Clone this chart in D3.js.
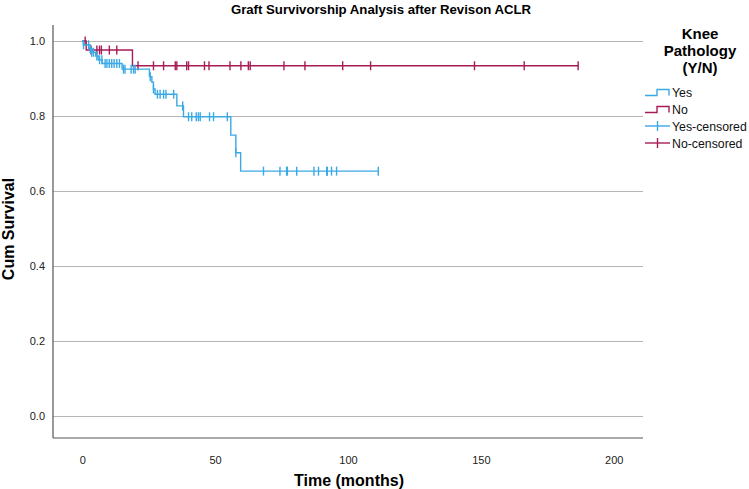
<!DOCTYPE html>
<html>
<head>
<meta charset="utf-8">
<script src="https://cdn.jsdelivr.net/npm/d3@7"></script>
<style>
  body { margin: 0; background: #fff; }
  svg { display: block; font-family: "Liberation Sans", Arial, sans-serif; }
  .tick text { font-family: "Liberation Sans Narrow", "Liberation Sans", Arial, sans-serif; font-size: 11px; fill: #222; }
</style>
</head>
<body>
<svg id="chart"></svg>
<script>
const width = 749;
const height = 489;

// Kaplan-Meier steps (months, cum survival)
const yesTimes = [0, 0.4, 2.5, 3.5, 5, 6, 7.5, 15, 25.3, 26.2, 26.8, 27.4, 35.6, 38.1, 55.9, 57.8, 59.6];
const yesSurv  = [1.0, 0.99, 0.98, 0.97, 0.96, 0.95, 0.94, 0.925, 0.905, 0.89, 0.872, 0.858, 0.827, 0.798, 0.749, 0.702, 0.653];
const yesEnd = 111.4;
const yesCensored = [0.5, 2.4, 3, 3.6, 4.2, 5.5, 6.5, 7.4, 8.6, 9.3, 10.2, 11.1, 12, 13, 14,
    15.5, 16.1, 18.4, 19.3, 19.9, 25.6, 26.8, 28.3, 29.3, 30.6, 31.5, 34.4, 37.8,
    40, 41.2, 42.9, 43.7, 44.4, 47.9, 49.4, 54.6, 57.8,
    68.2, 74.4, 76.9, 77.2, 80.7, 87.2, 88.9, 92, 92.2, 93.8, 95.7, 111.4];

const noTimes = [0, 1.5, 18.9];
const noSurv  = [1.0, 0.976, 0.934];
const noEnd = 186.6;
const noCensored = [1.1, 3.3, 5.5, 6.5, 7.2, 10.2, 13,
    21, 26.8, 30.6, 35, 35.6, 39.3, 40, 46, 47.7, 55.6, 59.7, 62.5, 63.2,
    75.9, 83.8, 98, 108.5, 147.6, 166.3, 186.6];

const xTicks = [0, 50, 100, 150, 200];
const yTicks = [0, 0.2, 0.4, 0.6, 0.8, 1.0];

const colors = { Yes: '#3aa9e4', No: '#a61c57' };
const legendItems = ['Yes', 'No', 'Yes-censored', 'No-censored'];

const svg = d3.select("#chart")
    .attr("width", width)
    .attr("height", height);

const x = d3.scaleLinear().domain([-11, 211]).range([53, 643]);
const y = d3.scaleLinear().domain([-0.0587, 1.0427]).range([438, 25]);

// gridlines + y tick labels
const yAxis = svg.append("g")
    .attr("transform", `translate(${x.range()[0]},0)`)
    .call(d3.axisLeft(y).tickValues(yTicks).tickFormat(d3.format(".1f"))
        .tickSize(-(x.range()[1] - x.range()[0])).tickPadding(8));
yAxis.select(".domain").remove();
yAxis.selectAll(".tick line").attr("stroke", "#b5b5b5").attr("stroke-width", 1.2);

const xAxis = svg.append("g")
    .attr("transform", `translate(0,${y.range()[0]})`)
    .call(d3.axisBottom(x).tickValues(xTicks).tickSize(0).tickPadding(18));
xAxis.select(".domain").remove();

// axis lines
svg.append("line")
    .attr("x1", x.range()[0]).attr("x2", x.range()[0])
    .attr("y1", y.range()[1]).attr("y2", y.range()[0])
    .attr("stroke", "#555").attr("stroke-width", 1.2);
svg.append("line")
    .attr("x1", x.range()[0]).attr("x2", x.range()[1])
    .attr("y1", y.range()[0]).attr("y2", y.range()[0])
    .attr("stroke", "#555").attr("stroke-width", 1.2);

function survAt(times, surv, t) {
    let s = surv[0];
    times.forEach((tt, i) => { if (t >= tt) s = surv[i]; });
    return s;
}

const line = d3.line()
    .x(d => x(d[0]))
    .y(d => y(d[1]))
    .curve(d3.curveStepAfter);

function drawCurve(times, surv, end, censored, color) {
    const pts = times.map((t, i) => [t, surv[i]]);
    pts.push([end, surv[surv.length - 1]]);
    svg.append("path")
        .attr("d", line(pts))
        .attr("fill", "none")
        .attr("stroke", color)
        .attr("stroke-width", 1.4);
    svg.append("g").selectAll("line")
        .data(censored)
        .enter()
        .append("line")
        .attr("x1", d => x(d)).attr("x2", d => x(d))
        .attr("y1", d => y(survAt(times, surv, d)) - 4.5)
        .attr("y2", d => y(survAt(times, surv, d)) + 4.5)
        .attr("stroke", color)
        .attr("stroke-width", 1.4);
}

drawCurve(noTimes, noSurv, noEnd, noCensored, colors.No);
drawCurve(yesTimes, yesSurv, yesEnd, yesCensored, colors.Yes);

// titles
svg.append("text")
    .attr("x", 381).attr("y", 14)
    .attr("text-anchor", "middle")
    .style("font-size", "13.2px").style("font-weight", "bold")
    .text("Graft Survivorship Analysis after Revison ACLR");

svg.append("text")
    .attr("x", 349).attr("y", 486)
    .attr("text-anchor", "middle")
    .style("font-size", "16px").style("font-weight", "bold")
    .text("Time (months)");

svg.append("text")
    .attr("transform", "translate(14,229) rotate(-90)")
    .attr("text-anchor", "middle")
    .style("font-size", "16px").style("font-weight", "bold")
    .text("Cum Survival");

// legend
const legTitle = ["Knee", "Pathology", "(Y/N)"];
svg.append("g").selectAll("text")
    .data(legTitle)
    .enter()
    .append("text")
    .attr("x", 700)
    .attr("y", (d, i) => 39 + i * 17)
    .attr("text-anchor", "middle")
    .style("font-size", "15px").style("font-weight", "bold")
    .text(d => d);

const leg = svg.append("g").selectAll("g")
    .data(legendItems)
    .enter()
    .append("g")
    .attr("transform", (d, i) => `translate(645,${92 + i * 17})`);

leg.each(function(d) {
    const g = d3.select(this);
    const color = d.startsWith('Yes') ? colors.Yes : colors.No;
    if (d.includes('censored')) {
        g.append("line").attr("x1", 0).attr("x2", 25).attr("y1", 0).attr("y2", 0)
            .attr("stroke", color).attr("stroke-width", 1.4);
        g.append("line").attr("x1", 12.5).attr("x2", 12.5).attr("y1", -5).attr("y2", 5)
            .attr("stroke", color).attr("stroke-width", 1.4);
    } else {
        g.append("path").attr("d", "M0,3.5H12V-2.5H24V3.5")
            .attr("fill", "none").attr("stroke", color).attr("stroke-width", 1.4);
    }
    g.append("text")
        .attr("x", 27).attr("y", 4.5)
        .style("font-size", "12.3px")
        .style("fill", "#111")
        .text(d);
});
</script>
</body>
</html>
